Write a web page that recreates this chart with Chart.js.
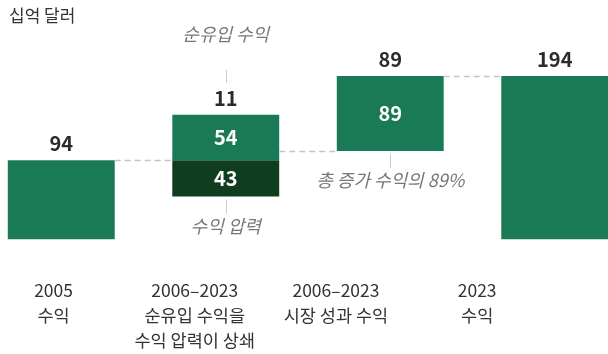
<!DOCTYPE html>
<html>
<head>
<meta charset="utf-8">
<script src="https://cdn.jsdelivr.net/npm/chart.js@4/dist/chart.umd.min.js"></script>
<style>
  html, body { margin: 0; padding: 0; background: #fff; overflow: hidden; }
  #wrap { position: absolute; left: -21px; top: 0; width: 658px; height: 354px; }
</style>
</head>
<body>
<div id="wrap"><canvas id="myChart"></canvas></div>
<script>
const FONT = "'Noto Sans CJK KR', 'Noto Sans', sans-serif";
const GREEN = '#1b7a56';
const DARK = '#103d1e';

const UNIT = '십억 달러';
const CATEGORIES = [
    ['2005', '수익'],
    ['2006–2023', '순유입 수익을', '수익 압력이 상쇄'],
    ['2006–2023', '시장 성과 수익'],
    ['2023', '수익']
];
const KINDS = ['total', 'delta', 'delta', 'total'];
const GAINS = [94, 54, 89, 194];
const LOSSES = [0, 43, 0, 0];
const NOTES = [
    { index: 1, text: '순유입 수익', side: 'top' },
    { index: 1, text: '수익 압력', side: 'bottom' },
    { index: 2, text: '총 증가 수익의 89%', side: 'bottom' }
];

// running totals -> floating bars
let run = 0;
const gainBars = [], lossBars = [], levels = [], nets = [];
KINDS.forEach((k, i) => {
    if (k === 'total') {
        gainBars.push([0, GAINS[i]]);
        lossBars.push(null);
        run = GAINS[i];
        nets.push(GAINS[i]);
    } else {
        gainBars.push([run, run + GAINS[i]]);
        lossBars.push(LOSSES[i] ? [run - LOSSES[i], run] : null);
        run += GAINS[i] - LOSSES[i];
        nets.push(GAINS[i] - LOSSES[i]);
    }
    levels.push(run);
});

const waterfallExtras = {
    id: 'waterfallExtras',
    afterDatasetsDraw(chart) {
        const ctx = chart.ctx;
        const yScale = chart.scales.y;
        const gain = chart.getDatasetMeta(0).data;
        const loss = chart.getDatasetMeta(1).data;
        const topOf = el => Math.min(el.y, el.base);
        const bottomOf = i => {
            let b = Math.max(gain[i].y, gain[i].base);
            if (lossBars[i] && loss[i]) b = Math.max(b, loss[i].y, loss[i].base);
            return b;
        };
        ctx.save();

        // dashed connectors
        ctx.strokeStyle = '#c4c4c4';
        ctx.lineWidth = 1.5;
        ctx.setLineDash([6, 4]);
        for (let i = 0; i < gain.length - 1; i++) {
            const y = Math.round(yScale.getPixelForValue(levels[i])) + 0.5;
            ctx.beginPath();
            ctx.moveTo(gain[i].x + gain[i].width / 2, y);
            ctx.lineTo(gain[i + 1].x - gain[i + 1].width / 2, y);
            ctx.stroke();
        }
        ctx.setLineDash([]);

        // value labels
        ctx.textAlign = 'center';
        ctx.textBaseline = 'middle';
        ctx.font = `bold 20px ${FONT}`;
        gain.forEach((el, i) => {
            ctx.fillStyle = '#2b2b2b';
            ctx.fillText(String(nets[i]), el.x, topOf(el) - 16.5);
            if (KINDS[i] === 'delta') {
                ctx.fillStyle = '#fff';
                ctx.fillText(String(GAINS[i]), el.x, (el.y + el.base) / 2);
                if (lossBars[i]) ctx.fillText(String(LOSSES[i]), loss[i].x, (loss[i].y + loss[i].base) / 2);
            }
        });

        // italic notes with tick marks
        ctx.font = `italic 18px ${FONT}`;
        NOTES.forEach(n => {
            const el = gain[n.index];
            let y1, y2, ty;
            if (n.side === 'top') {
                const t = topOf(el);
                y1 = t - 45; y2 = t - 32; ty = t - 81;
            } else {
                const b = bottomOf(n.index);
                y1 = b + 3; y2 = b + 17; ty = b + 29.5;
            }
            ctx.strokeStyle = '#cccccc';
            ctx.lineWidth = 1;
            ctx.beginPath();
            ctx.moveTo(Math.round(el.x) + 0.5, y1);
            ctx.lineTo(Math.round(el.x) + 0.5, y2);
            ctx.stroke();
            ctx.fillStyle = '#777';
            ctx.fillText(n.text, el.x, ty);
        });

        // unit caption
        ctx.font = `17px ${FONT}`;
        ctx.fillStyle = '#333';
        ctx.textAlign = 'left';
        ctx.fillText(UNIT, 30, 16);
        ctx.restore();
    }
};

new Chart(document.getElementById('myChart'), {
    type: 'bar',
    data: {
        labels: CATEGORIES.map(c => c.join(' ')),
        datasets: [
            { data: gainBars, backgroundColor: GREEN, grouped: false, barPercentage: 0.65, categoryPercentage: 1 },
            { data: lossBars, backgroundColor: DARK, grouped: false, barPercentage: 0.65, categoryPercentage: 1 }
        ]
    },
    options: {
        responsive: true, maintainAspectRatio: false, animation: false,
        layout: { padding: 0 },
        plugins: { legend: { display: false }, tooltip: { enabled: false } },
        scales: {
            x: { type: 'category', display: false, offset: true },
            xl: {
                type: 'linear', position: 'bottom', offset: false, min: -0.528, max: 4.132,
                afterBuildTicks: s => { s.ticks = CATEGORIES.map((_, i) => ({ value: i })); },
                afterFit: s => { s.height = 114.5; },
                grid: { display: false, drawTicks: false }, border: { display: false },
                ticks: {
                    callback: (v, i) => CATEGORIES[i], color: '#333', padding: 37.8,
                    autoSkip: false, maxRotation: 0, minRotation: 0,
                    font: { family: FONT, size: 17.5, lineHeight: 1.45 }
                }
            },
            y: { display: false, min: 0, max: 284, stacked: false }
        }
    },
    plugins: [waterfallExtras]
});
</script>
</body>
</html>
